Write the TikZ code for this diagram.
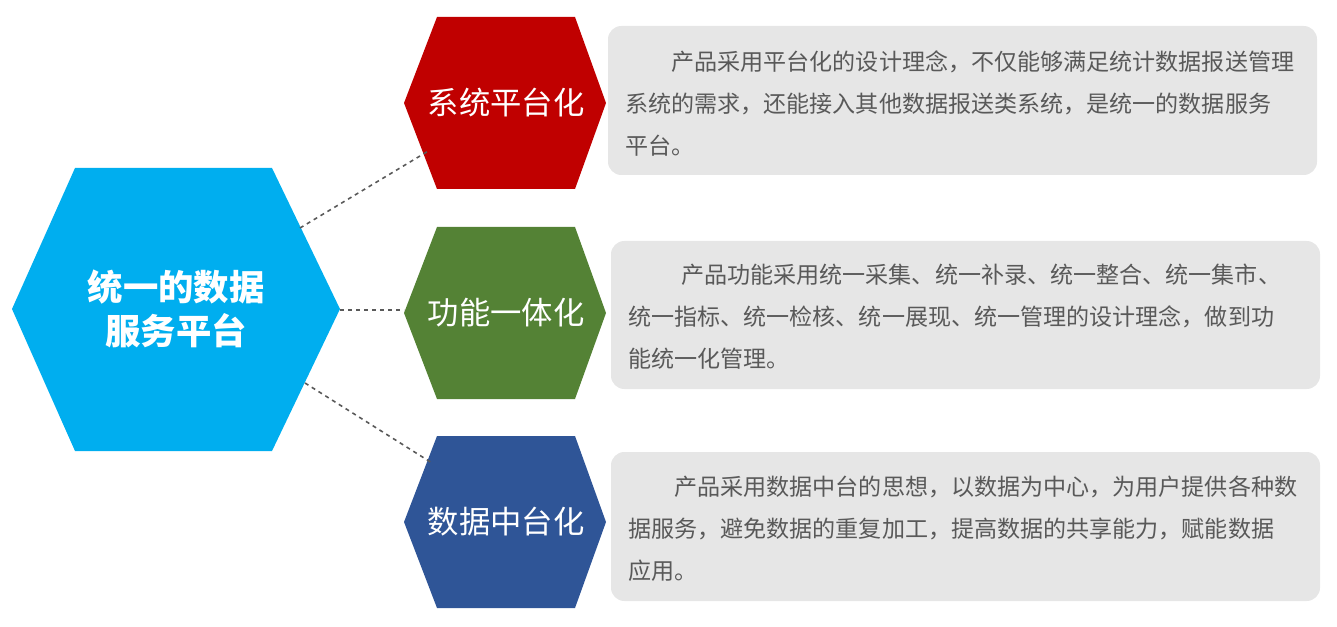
\documentclass[tikz,border=0pt]{standalone}
\usepackage{fontspec}
\setmainfont{Noto Sans CJK SC}
\begin{document}
\begin{tikzpicture}[x=0.75pt,y=-0.75pt,
  hexlbl/.style={text=white,font=\fontsize{23.5}{28}\selectfont},
  descbox/.style={fill=boxgray,rounded corners=10pt},
  desctxt/.style={anchor=north west,align=left,text=txtgray,font=\fontsize{17.3}{31.5}\selectfont,inner sep=0pt},
  conn/.style={dashed,draw=gray!70!black,line width=1.2pt}]
\definecolor{cblue}{RGB}{0,174,239}
\definecolor{cred}{RGB}{192,0,0}
\definecolor{cgreen}{RGB}{84,130,53}
\definecolor{cnavy}{RGB}{47,85,151}
\definecolor{boxgray}{RGB}{230,230,230}
\definecolor{txtgray}{RGB}{89,89,89}
\useasboundingbox (0,0) rectangle (1337,627);
% central hexagon
\fill[cblue] (12,309)--(75,168)--(272,168)--(340,309)--(272,451)--(75,451)--cycle;
\node[text=white,font=\fontsize{26.5}{33}\selectfont\bfseries,align=center] (c) at (176,309) {统一的数据\\服务平台};
% small hexagons
\foreach \yc/\col/\nm/\lbl in {103/cred/h1/系统平台化, 313/cgreen/h2/功能一体化, 522/cnavy/h3/数据中台化}{
  \fill[\col] (404,\yc)--(437,\yc-86)--(575,\yc-86)--(606,\yc)--(575,\yc+86)--(437,\yc+86)--cycle;
  \node[hexlbl] (\nm) at (506,\yc) {\lbl};
}
\coordinate (a1) at (300,228); \coordinate (b1) at (430,150);
\coordinate (a2) at (340,310); \coordinate (b2) at (404,310);
\coordinate (a3) at (305,383); \coordinate (b3) at (432,463);
\draw[conn] (a1)--(b1); \draw[conn] (a2)--(b2); \draw[conn] (a3)--(b3);
% boxes
\fill[descbox] (608,26) rectangle (1317,175);
\fill[descbox] (611,241) rectangle (1320,389);
\fill[descbox] (611,452) rectangle (1320,601);
\node[desctxt] (t1) at (625,50) {\hspace*{2em}产品采用平台化的设计理念，不仅能够满足统计数据报送管理\\系统的需求，还能接入其他数据报送类系统，是统一的数据服务\\平台。};
\node[desctxt] (t2) at (628,264) {\hspace*{2.3em}产品功能采用统一采集、统一补录、统一整合、统一集市、\\统一指标、统一检核、统一展现、统一管理的设计理念，做到功\\能统一化管理。};
\node[desctxt] (t3) at (628,476) {\hspace*{2em}产品采用数据中台的思想，以数据为中心，为用户提供各种数\\据服务，避免数据的重复加工，提高数据的共享能力，赋能数据\\应用。};
\end{tikzpicture}
\end{document}
